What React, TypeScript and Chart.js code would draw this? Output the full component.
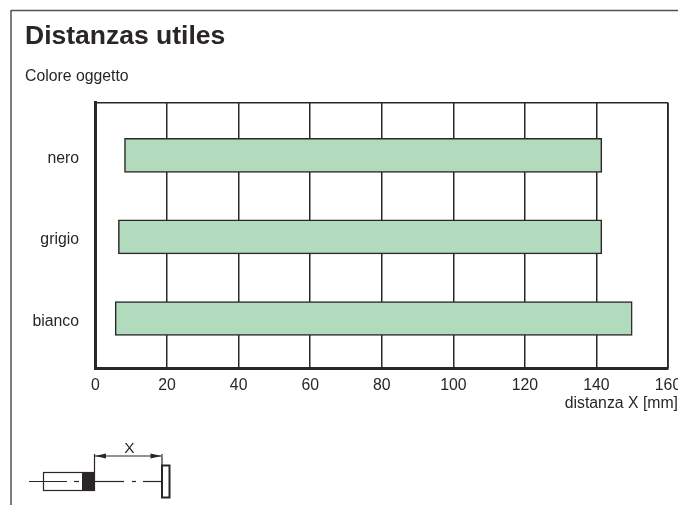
import React, { useEffect, useRef } from "react";
import { Chart, registerables } from "chart.js";

Chart.register(...registerables);

const categories = ["nero", "grigio", "bianco"];
const rangeStart = [8.1, 6.4, 5.5];
const rangeEnd = [141.5, 141.5, 150];
const xTicks = [0, 20, 40, 60, 80, 100, 120, 140, 160];

const INK = "#2a2627";
const FONT = "'Liberation Sans', Arial, sans-serif";

const decor = {
  id: "decor",
  afterDraw(chart: any) {
    const { ctx, chartArea: a } = chart;
    ctx.save();
    ctx.strokeStyle = INK;
    ctx.fillStyle = INK;
    const line = (x1: number, y1: number, x2: number, y2: number, w = 1.5) => {
      ctx.lineWidth = w;
      ctx.beginPath();
      ctx.moveTo(x1, y1);
      ctx.lineTo(x2, y2);
      ctx.stroke();
    };
    // outer frame
    ctx.strokeStyle = "#555152";
    line(11, 10.5, 678, 10.5, 1.5);
    line(11, 10, 11, 505, 1.5);
    ctx.strokeStyle = INK;
    // plot frame, top and right
    line(a.left, a.top, a.right, a.top, 1.5);
    line(a.right, a.top, a.right, a.bottom, 1.5);
    // axis caption
    ctx.font = `15.8px ${FONT}`;
    ctx.textAlign = "right";
    ctx.textBaseline = "alphabetic";
    ctx.fillText("distanza X [mm]", 678, 408);
    // schematic
    const cy = 481.5;
    line(29, cy, 67, cy, 1.2);
    line(74, cy, 79, cy, 1.2);
    ctx.lineWidth = 1.2;
    ctx.strokeRect(43.5, 472.5, 51, 18);
    ctx.fillRect(82, 472, 13, 19);
    line(95, cy, 124, cy, 1.2);
    line(132, cy, 136, cy, 1.2);
    line(143, cy, 161, cy, 1.2);
    ctx.lineWidth = 2;
    ctx.strokeRect(162, 465.5, 7.5, 32);
    line(94.5, 454, 94.5, 472, 1.2);
    line(162, 454, 162, 465, 1.2);
    line(95, 456, 161, 456, 1.2);
    ctx.beginPath();
    ctx.moveTo(95, 456);
    ctx.lineTo(106, 453.5);
    ctx.lineTo(106, 458.5);
    ctx.closePath();
    ctx.moveTo(161.5, 456);
    ctx.lineTo(150.5, 453.5);
    ctx.lineTo(150.5, 458.5);
    ctx.closePath();
    ctx.fill();
    ctx.font = `15.5px ${FONT}`;
    ctx.textAlign = "center";
    ctx.fillText("X", 129.5, 452.5);
    ctx.restore();
  },
};

export default function App() {
  const ref = useRef<HTMLCanvasElement>(null);
  useEffect(() => {
    const chart = new Chart(ref.current!, {
      type: "bar",
      plugins: [decor],
      data: {
        datasets: [
          {
            data: categories.map((_, i) => ({ x: [rangeStart[i], rangeEnd[i]], y: i })) as any,
            backgroundColor: "#b2dabd",
            borderColor: INK,
            borderWidth: 1.5,
            borderSkipped: false,
            barThickness: 34,
          },
        ],
      },
      options: {
        indexAxis: "y",
        responsive: false,
        animation: false,
        layout: { padding: { left: 25, right: 10, top: 21, bottom: 0 } },
        plugins: {
          legend: { display: false },
          tooltip: { enabled: false },
          title: {
            display: true,
            text: "Distanzas utiles",
            align: "start",
            color: INK,
            font: { family: FONT, size: 26.5, weight: "bold" },
            padding: { top: 0, bottom: 14 },
          },
          subtitle: {
            display: true,
            text: "Colore oggetto",
            align: "start",
            color: INK,
            font: { family: FONT, size: 15.8, weight: "normal" },
            padding: { top: 0, bottom: 17 },
          },
        },
        scales: {
          x: {
            type: "linear",
            min: 0,
            max: 160,
            afterBuildTicks: (s: any) => {
              s.ticks = xTicks.map((value) => ({ value }));
            },
            afterFit: (s: any) => {
              s.height = 505 - 368.5;
              s.paddingLeft = 0;
              s.paddingRight = 0;
            },
            grid: { color: INK, lineWidth: 1.5, drawTicks: false },
            border: { color: INK, width: 3 },
            ticks: {
              color: INK,
              maxRotation: 0,
              autoSkip: false,
              padding: 8,
              font: { family: FONT, size: 15.8 },
            },
          },
          y: {
            type: "linear",
            reverse: true,
            offset: false,
            min: -0.644,
            max: 2.613,
            afterBuildTicks: (s: any) => {
              s.ticks = categories.map((_, value) => ({ value }));
            },
            afterFit: (s: any) => {
              s.width = 70.5;
            },
            grid: { display: false, drawTicks: false },
            border: { color: INK, width: 3 },
            ticks: {
              color: INK,
              padding: 16.5,
              labelOffset: 3,
              autoSkip: false,
              font: { family: FONT, size: 15.8 },
              callback: (v: any) => categories[Number(v)],
            },
          },
        },
      } as any,
    });
    return () => chart.destroy();
  }, []);
  return (
    <div style={{ position: "fixed", left: 0, top: 0, width: 678, height: 505, background: "#fff", overflow: "hidden" }}>
      <canvas ref={ref} width={678} height={505} style={{ display: "block" }} />
    </div>
  );
}
